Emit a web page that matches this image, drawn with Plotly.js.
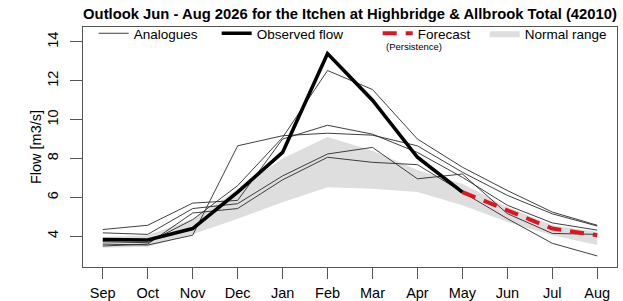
<!DOCTYPE html>
<html>
<head>
<meta charset="utf-8">
<script src="https://cdn.plot.ly/plotly-3.0.1.min.js"></script>
<style>html,body{margin:0;padding:0;background:#fff;}#chart{width:623px;height:301px;}</style>
</head>
<body>
<div id="chart"></div>
<script>
// Month categories (index positions on x axis)
const months = ["Sep","Oct","Nov","Dec","Jan","Feb","Mar","Apr","May","Jun","Jul","Aug"];

// Observed flow Sep - May
const observedMonths = ["Sep","Oct","Nov","Dec","Jan","Feb","Mar","Apr","May"];
const observedFlow = [3.83, 3.80, 4.39, 6.27, 8.31, 13.40, 11.00, 8.06, 6.27];

// Forecast (persistence) May - Aug
const forecastMonths = ["May","Jun","Jul","Aug"];
const forecastFlow = [6.27, 5.33, 4.39, 4.05];

// Normal range band
const normalUpper = [3.95, 4.05, 4.85, 6.40, 8.00, 9.10, 8.40, 7.40, 6.70, 5.50, 4.56, 4.22];
const normalLower = [3.40, 3.45, 4.10, 4.90, 5.75, 6.52, 6.44, 6.27, 5.59, 4.73, 4.05, 3.54];

// Analogue years
const analogueA = [3.71, 3.66, 4.85, 6.60, 9.08, 12.53, 11.55, 9.00, 7.55, 6.35, 5.24, 4.56];
const analogueB = [3.59, 3.54, 4.05, 8.65, 9.17, 9.30, 9.20, 8.65, 7.29, 6.10, 5.15, 4.52];
const analogueC = [4.34, 4.56, 5.70, 5.84, 9.00, 9.71, 9.25, 8.31, 7.03, 5.59, 4.68, 4.31];
const analogueD = [4.17, 4.09, 5.42, 5.67, 7.10, 8.23, 8.57, 6.95, 7.20, 5.16, 4.14, 4.09];
const analogueE = [3.49, 3.59, 5.19, 5.42, 6.90, 8.06, 7.80, 7.68, 6.27, 4.90, 3.63, 2.98];
const analogues = [analogueA, analogueB, analogueC, analogueD, analogueE];

// Axis tick values
const yTicks = [4, 6, 8, 10, 12, 14];

const idx = m => months.indexOf(m);
const xAll = months.map((m, i) => i);

const traces = [];

// Normal range polygon
traces.push({
  x: xAll.concat(xAll.slice().reverse()),
  y: normalUpper.concat(normalLower.slice().reverse()),
  type: "scatter", mode: "lines", fill: "toself",
  fillcolor: "#dedede", line: {width: 0, color: "#dedede"},
  name: "Normal range", legendrank: 4, legendwidth: 80, hoverinfo: "skip"
});

analogues.forEach((a, k) => {
  traces.push({
    x: xAll, y: a, type: "scatter", mode: "lines",
    line: {color: "#2a2a2a", width: 0.9},
    name: "Analogues", legendgroup: "analogues", showlegend: k === 0,
    legendrank: 1, legendwidth: 78
  });
});

traces.push({
  x: forecastMonths.map(idx), y: forecastFlow, type: "scatter", mode: "lines",
  line: {color: "#e0141c", width: 4, dash: "14px,9px"},
  name: "Forecast", legendrank: 3, legendwidth: 62
});

traces.push({
  x: observedMonths.map(idx), y: observedFlow, type: "scatter", mode: "lines",
  line: {color: "#000000", width: 3.6},
  name: "Observed flow", legendrank: 2, legendwidth: 116
});

const font = "Liberation Sans, Arial, sans-serif";

const layout = {
  width: 623, height: 301,
  margin: {l: 83, r: 6, t: 27, b: 34, pad: 0},
  paper_bgcolor: "#ffffff", plot_bgcolor: "#ffffff",
  font: {family: font, size: 14, color: "#000"},
  title: {
    text: "<b>Outlook Jun - Aug 2026 for the Itchen at Highbridge &amp; Allbrook Total (42010)</b>",
    font: {family: font, size: 14.8, color: "#000"},
    x: 0.5, xref: "paper", xanchor: "center", y: 0.955, yanchor: "middle"
  },
  showlegend: true,
  legend: {
    orientation: "h", x: 0.02, xanchor: "left", y: 1.0375, yanchor: "top",
    bgcolor: "rgba(0,0,0,0)", font: {family: font, size: 13.5, color: "#000"},
    traceorder: "normal", itemclick: false, tracegroupgap: 0
  },
  xaxis: {
    range: [-0.44, 11.44], tickmode: "array", tickvals: xAll, ticktext: months,
    ticks: "outside", ticklen: 11, tickwidth: 1, tickcolor: "#555",
    showline: true, mirror: true, linecolor: "#555", linewidth: 1,
    showgrid: false, zeroline: false, tickfont: {family: font, size: 14.5},
    ticklabelstandoff: 2
  },
  yaxis: {
    range: [2.41, 14.77], tickmode: "array", tickvals: yTicks,
    ticks: "outside", ticklen: 12, tickwidth: 1, tickcolor: "#555",
    showline: true, mirror: true, linecolor: "#555", linewidth: 1,
    showgrid: false, zeroline: false, tickangle: -90,
    tickfont: {family: font, size: 14.5}, ticklabelstandoff: 6,
    title: {text: "Flow [m3/s]", font: {family: font, size: 14.5}, standoff: 0}
  },
  annotations: [{
    text: "(Persistence)", xref: "paper", yref: "paper",
    x: 0.62, y: 0.917, xanchor: "center", yanchor: "middle",
    showarrow: false, font: {family: font, size: 9.5, color: "#000"}
  }]
};

Plotly.newPlot("chart", traces, layout, {staticPlot: true, displayModeBar: false});
</script>
</body>
</html>
